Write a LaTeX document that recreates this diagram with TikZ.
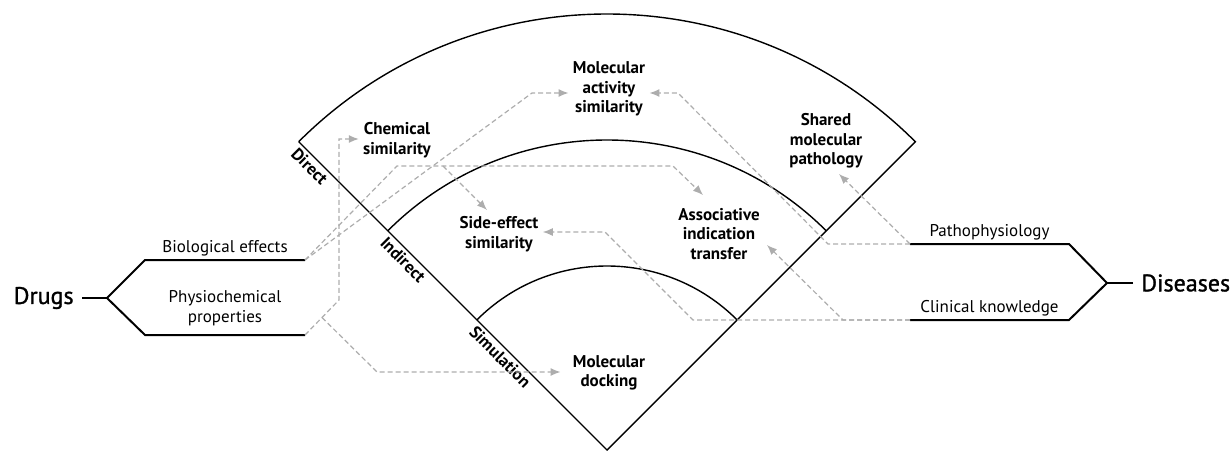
\documentclass[tikz,border=0pt]{standalone}
\usepackage{fontspec}
\setmainfont{PT Sans}
\newfontfamily\entityfont{PT Sans}[FakeBold=1.2]
\usetikzlibrary{arrows.meta,calc}

\tikzstyle{fan}=[line width=0.7pt,line join=miter]
\tikzstyle{branch}=[line width=1pt,line join=miter]
\tikzstyle{method}=[font=\bfseries\fontsize{8.5}{9.75}\selectfont,align=center,inner sep=2pt]
\tikzstyle{source}=[font=\fontsize{8.5}{9.75}\selectfont,align=center,inner sep=2pt]
\tikzstyle{entity}=[font=\entityfont\fontsize{12}{14}\selectfont,inner sep=0pt]
\tikzstyle{level}=[font=\bfseries\fontsize{8.5}{9}\selectfont,rotate=-45,anchor=north west,inner sep=1.5pt]
\tikzstyle{flow}=[draw=black!32,line width=0.6pt,dash pattern=on 2.5pt off 1.5pt,-{Latex[length=5pt,width=4pt]}]

\begin{document}
\begin{tikzpicture}[x=0.5pt,y=0.5pt]
    \useasboundingbox (0,0) rectangle (1232,452);

    % fan
    \coordinate (apex) at (607,2);
    \path (apex) ++(45:436) coordinate (outerR);
    \path (apex) ++(135:436) coordinate (outerL);
    \path (apex) ++(45:310) coordinate (midR);
    \path (apex) ++(135:310) coordinate (midL);
    \path (apex) ++(45:184) coordinate (innR);
    \path (apex) ++(135:184) coordinate (innL);

    \draw [fan] (outerL) -- (apex) -- (outerR) arc[start angle=45,end angle=135,radius=218pt];
    \draw [fan] (midR) arc[start angle=45,end angle=135,radius=155pt];
    \draw [fan] (innR) arc[start angle=45,end angle=135,radius=92pt];

    \node[level] (direct) at (outerL) {Direct};
    \node[level] (indirect) at (midL) {Indirect};
    \node[level] (simulation) at (innL) {Simulation};

    \node[method] (molact) at (609,363) {Molecular\\activity\\similarity};
    \node[method] (chem)   at (397,312) {Chemical\\similarity};
    \node[method] (shared) at (826,311) {Shared\\molecular\\pathology};
    \node[method] (side)   at (499,218) {Side-effect\\similarity};
    \node[method] (assoc)  at (719,218) {Associative\\indication\\transfer};
    \node[method] (dock)   at (609,79)  {Molecular\\docking};

    % drugs
    \node[entity,anchor=east] (drugs) at (74,154) {Drugs};
    \coordinate (forkL) at (107,154);
    \coordinate (bioL) at (145,192);
    \coordinate (bioR) at (305,192);
    \coordinate (phyL) at (145,117);
    \coordinate (phyR) at (305,117);
    \draw [branch] ([xshift=4pt]drugs.east) -- (forkL);
    \draw [branch] (bioR) -- (bioL) -- (forkL) -- (phyL) -- (phyR);
    \node[source,above] (bio) at ($(bioL)!0.5!(bioR)$) {Biological effects};
    \node[source] (phys) at (225,144) {Physiochemical\\properties};

    % diseases
    \node[entity,anchor=west] (diseases) at (1141,169) {Diseases};
    \coordinate (forkR) at (1107,169);
    \coordinate (pathL) at (910,208);
    \coordinate (pathR) at (1069,208);
    \coordinate (clinL) at (910,132);
    \coordinate (clinR) at (1069,132);
    \draw [branch] ([xshift=-4pt]diseases.west) -- (forkR);
    \draw [branch] (pathL) -- (pathR) -- (forkR) -- (clinR) -- (clinL);
    \node[source,above] (patho) at ($(pathL)!0.5!(pathR)$) {Pathophysiology};
    \node[source,above] (clin) at ($(clinL)!0.5!(clinR)$) {Clinical knowledge};

    % links
    \coordinate (p1) at (339,152);
    \coordinate (p2) at (339,313);
    \coordinate (p0) at ($(phyR)!0.5!(p1)$);
    \coordinate (p3) at (377,80);
    \coordinate (b1) at (532,359);
    \coordinate (b2) at (397,286);
    \coordinate (b3) at (673,286);
    \coordinate (a1) at (703,257);
    \coordinate (c1) at (443,286);
    \coordinate (c2) at (487,242);
    \coordinate (k1) at (693,132);
    \coordinate (k2) at (605,220);
    \coordinate (k3) at (843,132);
    \coordinate (k4) at (767,207);
    \coordinate (t1) at (828,208);
    \coordinate (t2) at (678,359);
    \coordinate (t3) at (839,278);

    \draw [flow] (phyR) -- (p1) -- (p2) -- (p2 -| chem.west);
    \draw [flow] (p0) -- (p3) -- ([xshift=-4pt]p3 -| dock.west);
    \draw [flow] (bioR) -- (b1) -- (b1 -| molact.west);
    \draw [flow] (bioR) -- (b2) -- (b3) -- (a1);
    \draw [flow] (c1) -- (c2);
    \draw [flow] (clinL) -- (k1) -- (k2) -- (k2 -| side.east);
    \draw [flow] (clinL) -- (k3) -- (k4);
    \draw [flow] (pathL) -- (t1) -- (t2) -- (t2 -| molact.east);
    \draw [flow] (pathL) -- (t3);
\end{tikzpicture}
\end{document}
